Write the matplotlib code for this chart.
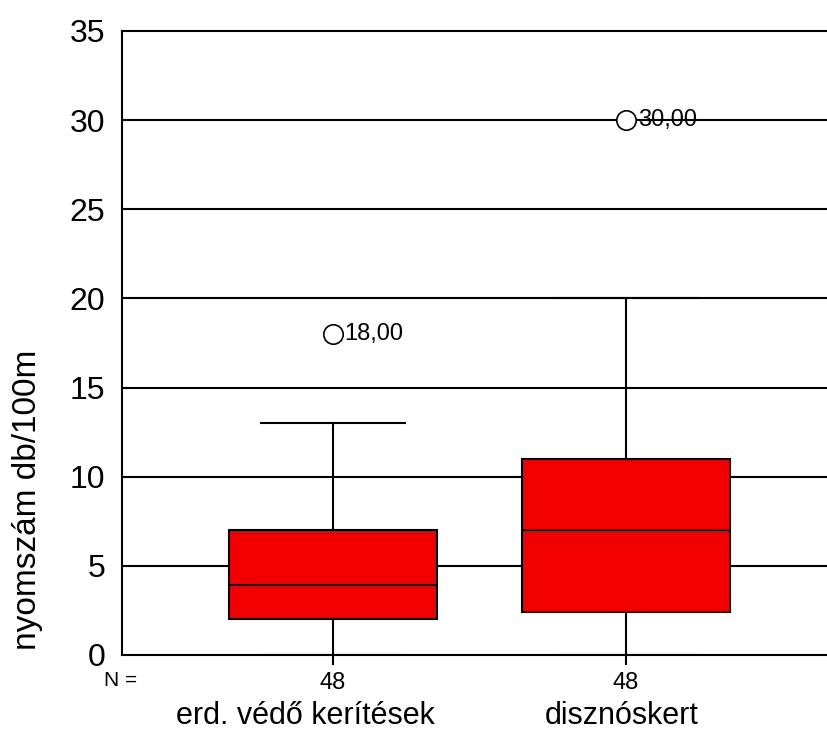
import matplotlib
matplotlib.use("Agg")
import matplotlib.pyplot as plt

plt.rcParams['font.family'] = ['Liberation Sans', 'DejaVu Sans']

# data
categories = ["erd. védő kerítések", "disznóskert"]
counts = [48, 48]
q1 = [2.0, 2.4]
medians = [3.9, 7.0]
q3 = [7.0, 11.0]
whisker_low = [0.0, 0.0]
whisker_high = [13.0, 20.0]
outliers = [[18.0], [30.0]]
yticks = [0, 5, 10, 15, 20, 25, 30, 35]

positions = [1, 2]
stats = []
for i in range(len(categories)):
    stats.append(dict(med=medians[i], q1=q1[i], q3=q3[i],
                      whislo=whisker_low[i], whishi=whisker_high[i],
                      fliers=outliers[i], label=categories[i]))

fig = plt.figure(figsize=(8.27, 7.40), dpi=100)
ax = fig.add_axes([122 / 827, 1 - 655 / 740, 1 - 122 / 827, (655 - 31) / 740])

for y in yticks[1:-1]:
    ax.axhline(y, color='black', lw=1.5, zorder=1)

ax.bxp(stats, positions=positions, widths=0.71, capwidths=0.49,
       patch_artist=True, showfliers=True, zorder=3,
       boxprops=dict(facecolor='#f20000', edgecolor='black', linewidth=1.5),
       medianprops=dict(color='black', linewidth=1.5),
       whiskerprops=dict(color='black', linewidth=1.5),
       capprops=dict(color='black', linewidth=1.5),
       flierprops=dict(marker='o', markerfacecolor='white', markeredgecolor='black',
                       markersize=14, markeredgewidth=1.2))

# outlier value labels
for pos, vals in zip(positions, outliers):
    for v in vals:
        ax.text(pos + 0.04, v, f"{v:.2f}".replace('.', ','), fontsize=17,
                va='center', ha='left', zorder=4)

ax.set_ylim(0, 35)
ax.set_xlim(0.28, 2.686)
ax.set_yticks(yticks)
ax.set_yticklabels([str(t) for t in yticks], fontsize=23)
ax.tick_params(axis='y', length=0, pad=12)
ax.set_xticks(positions)
ax.set_xticklabels([str(c) for c in counts], fontsize=17)
ax.tick_params(axis='x', length=7, width=1.5, pad=5)
ax.spines['right'].set_visible(False)
for s in ['left', 'top', 'bottom']:
    ax.spines[s].set_linewidth(1.5)

fig.text(104 / 827, 1 - 681 / 740, "N =", fontsize=15, ha='left', va='center')
fig.text(305 / 827, 1 - 716 / 740, categories[0], fontsize=22, ha='center', va='center')
fig.text(622 / 827, 1 - 716 / 740, categories[1], fontsize=22, ha='center', va='center')
fig.text(28 / 827, 1 - 500 / 740, "nyomszám db/100m", fontsize=24, rotation=90,
         ha='center', va='center')

fig.savefig("out.png", dpi=100)
